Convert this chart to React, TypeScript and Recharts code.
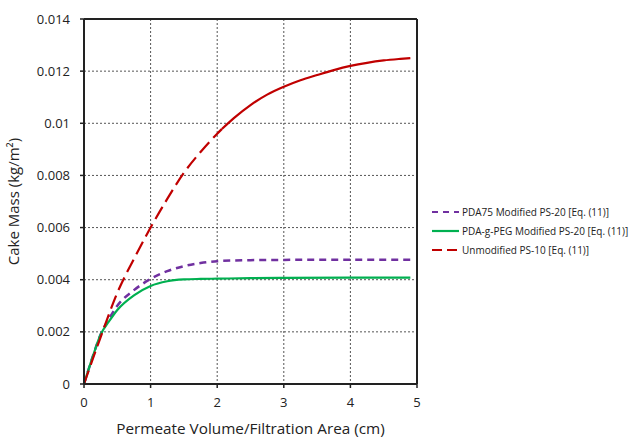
import {
  LineChart,
  Line,
  XAxis,
  YAxis,
  CartesianGrid,
  ReferenceLine,
} from 'recharts'

// x values are permeate volume / filtration area (cm)
const redDashX = [0, 0.25, 0.5, 0.75, 1, 1.25, 1.5, 1.75, 2, 2.07]
const redDashY = [0, 0.0018, 0.0035, 0.0048, 0.006, 0.0071, 0.0081, 0.0089, 0.0096, 0.00978]
const redSolidX = [2.07, 2.25, 2.5, 2.75, 3, 3.25, 3.5, 3.75, 4, 4.25, 4.5, 4.75, 4.9]
const redSolidY = [0.00978, 0.0102, 0.0107, 0.0111, 0.0114, 0.01165, 0.01185, 0.01204, 0.0122, 0.01232, 0.01241, 0.01247, 0.0125]

const purpleX = [0, 0.125, 0.25, 0.375, 0.5, 0.75, 1, 1.25, 1.5, 1.75, 2, 2.5, 3, 4, 4.9]
const purpleY = [0, 0.001, 0.0019, 0.0025, 0.003, 0.0036, 0.00403, 0.00433, 0.00452, 0.00464, 0.00471, 0.00475, 0.00476, 0.00477, 0.00477]

const greenX = [0, 0.125, 0.25, 0.375, 0.5, 0.75, 1, 1.25, 1.5, 1.75, 2, 2.5, 3, 4, 4.9]
const greenY = [0, 0.001, 0.0019, 0.0024, 0.00284, 0.0034, 0.00376, 0.00394, 0.00401, 0.00403, 0.00404, 0.00406, 0.00407, 0.00408, 0.00408]

const xTicks = [0, 1, 2, 3, 4, 5]
const yTicks = [0, 0.002, 0.004, 0.006, 0.008, 0.01, 0.012, 0.014]

const seriesNames = [
  'PDA75 Modified PS-20 [Eq. (11)]',
  'PDA-g-PEG Modified PS-20 [Eq. (11)]',
  'Unmodified PS-10 [Eq. (11)]',
]

const RED = '#C00000'
const PURPLE = '#7030A0'
const GREEN = '#00B050'
const FONT = '"Open Sans", "Liberation Sans", sans-serif'

const toPoints = (xs: number[], ys: number[]) => xs.map((x, i) => ({ x, y: ys[i] }))

const legendItems = [
  { name: seriesNames[0], color: PURPLE, dash: '6 5' },
  { name: seriesNames[1], color: GREEN, dash: undefined },
  { name: seriesNames[2], color: RED, dash: '10 5' },
]

function ChartLegend() {
  return (
    <div
      style={{
        position: 'absolute',
        left: 432,
        top: 202,
        fontFamily: FONT,
        fontSize: 10,
        color: '#222',
        whiteSpace: 'nowrap',
      }}
    >
      {legendItems.map((item) => (
        <div key={item.name} style={{ display: 'flex', alignItems: 'center', height: 19 }}>
          <svg width={28} height={6} style={{ marginRight: 2 }}>
            <line
              x1={0}
              y1={3}
              x2={27}
              y2={3}
              stroke={item.color}
              strokeWidth={2.2}
              strokeDasharray={item.dash}
            />
          </svg>
          <span>{item.name}</span>
        </div>
      ))}
    </div>
  )
}

export default function App() {
  return (
    <div style={{ position: 'absolute', left: 0, top: 0, width: 634, height: 444, background: '#fff' }}>
      <LineChart width={634} height={444} margin={{ top: 19, right: 217, bottom: 10, left: 0 }}>
        <CartesianGrid stroke="#555" strokeDasharray="2 2" strokeWidth={1} />
        <XAxis
          type="number"
          dataKey="x"
          domain={[0, 5]}
          ticks={xTicks}
          height={50}
          axisLine={{ stroke: '#222', strokeWidth: 2 }}
          tickLine={{ stroke: '#222', strokeWidth: 1.5 }}
          tickSize={4}
          tickMargin={10}
          tick={{ fill: '#222', fontSize: 13, fontFamily: FONT }}
          label={{
            value: 'Permeate Volume/Filtration Area (cm)',
            position: 'insideBottom',
            offset: 0,
            fill: '#222',
            fontSize: 15.3,
            fontFamily: FONT,
          }}
        />
        <YAxis
          type="number"
          dataKey="y"
          domain={[0, 0.014]}
          ticks={yTicks}
          width={84}
          axisLine={{ stroke: '#222', strokeWidth: 2 }}
          tickLine={{ stroke: '#222', strokeWidth: 1.5 }}
          tickSize={4}
          tickMargin={10}
          tick={{ fill: '#222', fontSize: 13, fontFamily: FONT }}
          label={{
            value: 'Cake Mass (kg/m²)',
            angle: -90,
            position: 'insideLeft',
            offset: 14,
            style: { textAnchor: 'middle' },
            fill: '#222',
            fontSize: 15,
            fontFamily: FONT,
          }}
        />
        <ReferenceLine y={0.014} stroke="#222" strokeWidth={2} />
        <ReferenceLine x={5} stroke="#222" strokeWidth={2} />
        <Line
          data={toPoints(purpleX, purpleY)}
          dataKey="y"
          name={seriesNames[0]}
          type="monotone"
          stroke={PURPLE}
          strokeWidth={2.5}
          strokeDasharray="7 5"
          dot={false}
          isAnimationActive={false}
        />
        <Line
          data={toPoints(greenX, greenY)}
          dataKey="y"
          name={seriesNames[1]}
          type="monotone"
          stroke={GREEN}
          strokeWidth={2.2}
          dot={false}
          isAnimationActive={false}
        />
        <Line
          data={toPoints(redDashX, redDashY)}
          dataKey="y"
          name={seriesNames[2]}
          type="monotone"
          stroke={RED}
          strokeWidth={2.2}
          strokeDasharray="14 6"
          dot={false}
          isAnimationActive={false}
        />
        <Line
          data={toPoints(redSolidX, redSolidY)}
          dataKey="y"
          name="redSolid"
          type="monotone"
          stroke={RED}
          strokeWidth={2.2}
          dot={false}
          isAnimationActive={false}
        />
      </LineChart>
      <ChartLegend />
    </div>
  )
}
